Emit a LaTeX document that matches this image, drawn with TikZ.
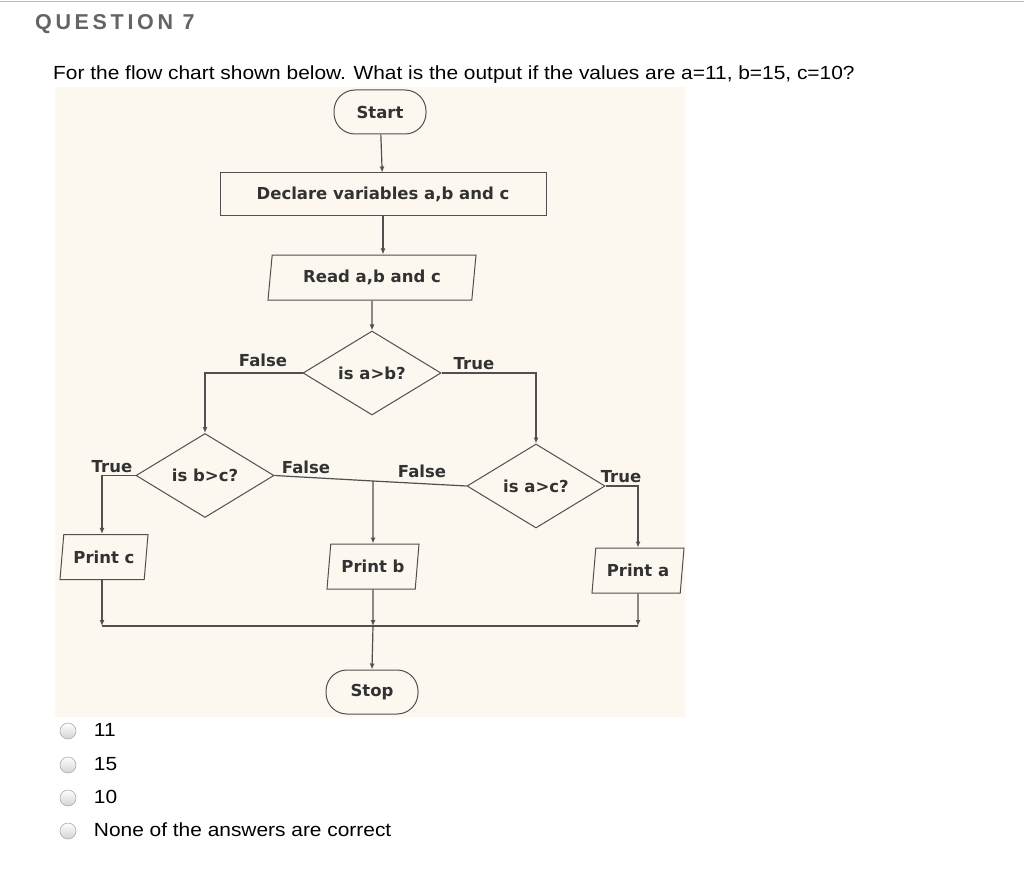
\documentclass[tikz,border=0pt]{standalone}
\usepackage{fontspec}
\setmainfont{Liberation Sans}[FakeStretch=1.1]
\newfontfamily\chartfont{DejaVu Sans}
\newfontfamily\headfont{Liberation Sans}[LetterSpace=17]
\usetikzlibrary{shapes.geometric,arrows.meta}
\definecolor{chartbg}{RGB}{252,248,240}
\definecolor{linegray}{RGB}{80,80,80}
\definecolor{txtgray}{RGB}{50,50,50}
\definecolor{headgray}{RGB}{100,100,100}
\tikzset{
	flowtext/.style={font=\chartfont\bfseries\fontsize{16.5}{18}\selectfont, text=txtgray},
	terminal/.style={flowtext, draw=linegray, line width=1pt, rectangle, rounded corners=21pt, minimum width=92pt, minimum height=44pt},
	process/.style={flowtext, draw=linegray, line width=1pt, rectangle, minimum width=326pt, minimum height=43pt},
	io/.style={flowtext, draw=linegray, line width=1pt, trapezium, trapezium left angle=79, trapezium right angle=101, trapezium stretches body, minimum height=45pt, inner xsep=2pt},
	decision/.style={flowtext, draw=linegray, line width=1pt, diamond, minimum width=138pt, minimum height=84pt, inner sep=0pt},
	edgelabel/.style={flowtext, inner sep=0.75pt},
	line/.style={draw=linegray, line width=1.2pt},
	flow/.style={line, -{Latex[length=6pt,width=5pt]}},
	radio/.style={circle, minimum size=16pt, inner sep=0pt, draw=gray!65, line width=0.6pt, top color=white, bottom color=gray!35},
	answer/.style={anchor=west, inner sep=0.75pt, font=\fontsize{19}{21}\selectfont}
}
\begin{document}
\begin{tikzpicture}[x=1pt,y=1pt,yscale=-1,xscale=1]
		\useasboundingbox (0,0) rectangle (1024,885);
		%Top rule
		\draw [gray!55, line width=1.5pt] (0,1.5) -- (1024,1.5);
		% Text Node
		\node (qtitle) [anchor=west, inner sep=0pt, font=\headfont\bfseries\fontsize{21.5}{24}\selectfont, text=headgray] at (35,24) {QUESTION 7};
		% Text Node
		\node (qtext) [anchor=west, inner sep=0pt, font=\fontsize{19}{21}\selectfont] at (53,75) {For the flow chart shown below. What is the output if the values are a=11, b=15, c=10?};
		%Chart background
		\fill [chartbg] (55,87) rectangle (685,717);
		
		%Flow chart nodes
		\node (start) [terminal] at (380,112) {Start};
		\node (declare) [process] at (383,194.5) {Declare variables a,b and c};
		\node (read) [io, minimum width=208pt] at (372,277.5) {Read a,b and c};
		\node (dab) [decision] at (372,373) {is a>b?};
		\node (dbc) [decision] at (205,475.5) {is b>c?};
		\node (dac) [decision] at (536,486) {is a>c?};
		\node (pc) [io, minimum width=88pt] at (104,557) {Print c};
		\node (pb) [io, minimum width=92pt] at (373,566.5) {Print b};
		\node (pa) [io, minimum width=92pt] at (638,570.5) {Print a};
		\node (stop) [terminal] at (372,692) {Stop};
		
		%Junctions
		\coordinate (jb) at (373,481);
		\coordinate (bc) at (102,626);
		\coordinate (bb) at (373,626);
		\coordinate (ba) at (638,626);
		
		%Straight Lines
		\draw [flow] (start) -- (declare);
		\draw [flow] (declare.south -| start) ++(3,0) -- (read.north -| declare);
		\draw [flow] (read) -- (dab);
		\draw [flow] (dab.west) -| (dbc.north);
		\draw [flow] (dab.east) -| (dac.north);
		\draw [flow] (dbc.west) -| (pc.north -| bc);
		\draw [flow] (dac.east) -| (pa.north);
		\draw [line] (dbc.east) -- (jb) -- (dac.west);
		\draw [flow] (jb) -- (pb.north);
		\draw [flow] (pc.south -| bc) -- (bc);
		\draw [flow] (pb.south) -- (bb);
		\draw [flow] (pa.south) -- (ba);
		\draw [draw=linegray, line width=2.4pt] (bc) -- (ba);
		\draw [flow] (bb) -- (stop.north);
		
		% Text Node
		\node (fab) [edgelabel] at (263,360) {False};
		\node (tab) [edgelabel] at (474,364) {True};
		\node (tbc) [edgelabel] at (112,467) {True};
		\node (fbc) [edgelabel] at (306,467) {False};
		\node (fac) [edgelabel] at (422,471) {False};
		\node (tac) [edgelabel] at (621,477) {True};
		
		%Answers
		\foreach \y/\ans [count=\i] in {731/11, 765/15, 798/10, 831/None of the answers are correct} {
			\node (radio\i) [radio] at (68,\y) {};
			\node (ans\i) [answer] at (93,\y-1) {\ans};
		}
	\end{tikzpicture}
\end{document}
